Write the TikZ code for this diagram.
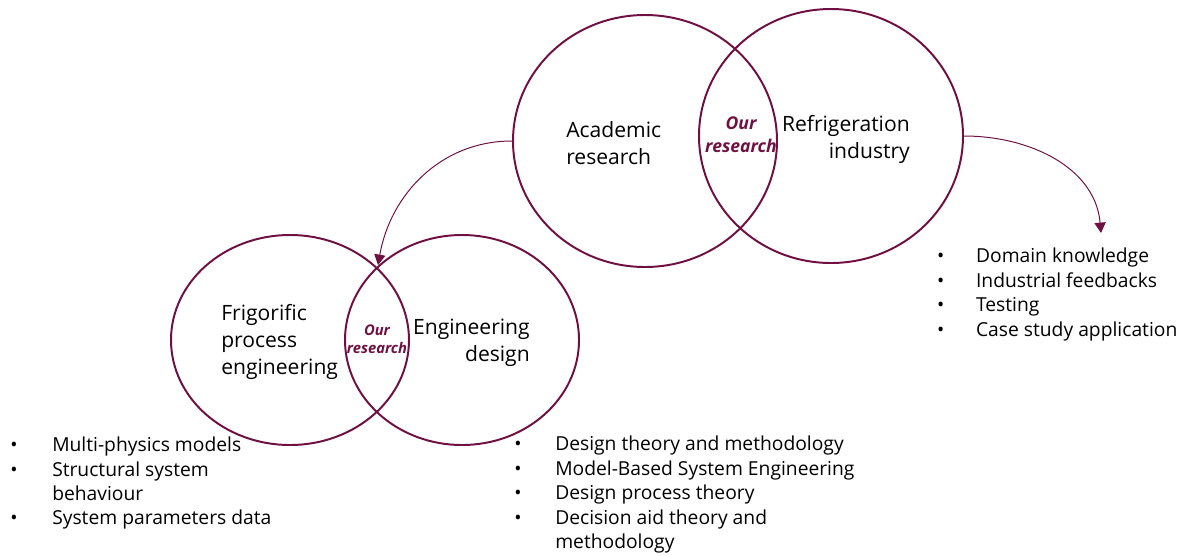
\documentclass[tikz,border=0pt]{standalone}
\usepackage{fontspec}
\setmainfont{Open Sans}
\usetikzlibrary{shapes.geometric,arrows.meta}
\definecolor{wine}{RGB}{112,16,66}
\newcommand{\bul}{\textbullet}

\begin{document}
\begin{tikzpicture}[>={Triangle[width=0.28cm,length=0.26cm]},
  venn/.style={ellipse, draw=wine, line width=1.4pt, inner sep=0pt},
  circtext/.style={inner sep=0pt, font=\fontsize{15}{19.2}\selectfont},
  ours/.style={inner sep=0pt, align=center, text=wine,
    font=\fontsize{12.5}{16.3}\selectfont\bfseries\itshape},
  feed/.style={->, draw=wine, line width=0.7pt},
  bullets/.style={anchor=base west, inner sep=0pt,
    font=\fontsize{13.7}{17.4}\selectfont}]
\useasboundingbox (0,0) rectangle (29.65,-13.875);
%%upper venn
\node[venn, minimum width=6.6cm, minimum height=6.3cm] (acad) at (16.125,-3.525) {};
\node[venn, minimum width=6.6cm, minimum height=6.35cm] (refr) at (20.775,-3.4) {};
\node[circtext, anchor=west, align=left] (acadtxt) at (14.15,-3.57) {Academic\\research};
\node[circtext, anchor=east, align=right] (refrtxt) at (22.75,-3.49) {Refrigeration\\industry};
\node[ours] (ourup) at (18.525,-3.37) {Our\\research};
%%lower venn
\node[venn, minimum width=5.95cm, minimum height=5.25cm] (frig) at (7.25,-8.5) {};
\node[venn, minimum width=5.85cm, minimum height=5.25cm] (engd) at (11.55,-8.5) {};
\node[circtext, anchor=west, align=left] (frigtxt) at (5.525,-8.56) {Frigorific\\process\\engineering};
\node[circtext, anchor=east, align=right] (engdtxt) at (13.25,-8.575) {Engineering\\design};
\node[ours, font=\fontsize{10.5}{12.8}\selectfont\bfseries\itshape] (ourlow) at (9.425,-8.49) {Our\\research};
%arrows
\coordinate (lowtop) at (9.45,-6.625);
\coordinate (indtip) at (27.525,-5.825);
\draw[feed] (acad.west) to[out=180, in=80] (lowtop);
\draw[feed] (refr.east) to[out=0, in=95] (indtip);
%%lists
\node[bullets] (indlist) at (23.42,-6.57) {\begin{tabular}[t]{@{}p{0.975cm}@{}l@{}}
\bul & Domain knowledge\\
\bul & Industrial feedbacks\\
\bul & Testing\\
\bul & Case study application
\end{tabular}};
\node[bullets] (friglist) at (0.25,-11.29) {\begin{tabular}[t]{@{}p{1.05cm}@{}l@{}}
\bul & Multi-physics models\\
\bul & Structural system\\
     & behaviour\\
\bul & System parameters data
\end{tabular}};
\node[bullets] (engdlist) at (12.85,-11.27) {\begin{tabular}[t]{@{}p{1.025cm}@{}l@{}}
\bul & Design theory and methodology\\
\bul & Model-Based System Engineering\\
\bul & Design process theory\\
\bul & Decision aid theory and\\
     & methodology
\end{tabular}};
\end{tikzpicture}
\end{document}
